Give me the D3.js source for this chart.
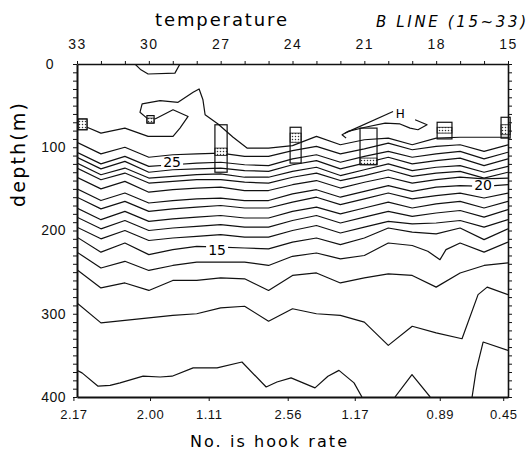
<!DOCTYPE html>
<html>
<head>
<meta charset="utf-8">
<script src="https://cdn.jsdelivr.net/npm/d3@7"></script>
<style>
body { margin: 0; background: #fff; }
svg { display: block; font-family: "DejaVu Sans", sans-serif; }
.contour { fill: none; stroke: #111; stroke-width: 1.2; stroke-linejoin: round; }
.axis path, .axis line { stroke: #111; }
.axis text { fill: #111; }
</style>
</head>
<body>
<svg id="chart" width="528" height="452"></svg>
<script>
// station numbers along the B line (top axis) and depth ticks
var stations = [33,32,31,30,29,28,27,26,25,24,23,22,21,20,19,18,17,16,15];
var tempTicks = [33,30,27,24,21,18,15];
var depthTicks = [0,100,200,300,400];

// hook rate written under the section, at these stations
var hookRates = ["2.17","2.00","1.11","2.56","1.17","0.89","0.45"];
var hookAt = [33.15,29.95,27.5,24.2,21.4,17.85,15.2];

// isotherm depths (m) at each station, 26C down to 15C
var iso26 = [94,108,100,112,109,108,107,111,111,104,99,108,102,95,103,99,97,105,97];
var iso25 = [106,120,111,123,121,119,118,121,122,114,109,118,111,105,112,108,105,114,106];
var iso24 = [112,126,117,130,127,126,125,128,129,121,116,126,119,112,120,116,113,122,114];
var iso23 = [119,133,125,137,135,133,132,136,136,129,124,134,127,120,128,124,122,130,123];
var iso22 = [125,139,131,143,141,139,139,142,143,136,131,140,134,127,135,131,129,137,130];
var iso21 = [136,150,141,154,151,149,148,152,152,145,140,149,142,136,143,139,136,138,137];
var iso20 = [150,164,155,167,164,162,161,164,164,156,151,160,153,146,153,148,146,147,145];
var iso19 = [160,174,165,177,174,172,170,173,173,166,160,169,162,155,162,158,155,161,155];
var iso18 = [173,187,177,189,186,184,182,185,185,177,172,180,173,166,173,168,165,173,165];
var iso17 = [184,198,188,200,197,195,193,196,196,188,182,191,184,177,183,179,176,184,175];
var iso16 = [196,210,200,212,209,207,205,208,208,200,194,203,196,189,192,191,188,196,187];
var iso15 = [208,226,215,229,223,219,220,221,222,214,209,217,209,197,202,204,197,211,198];
var iso13 = [247,269,263,272,260,260,257,258,272,254,251,263,257,252,254,268,251,242,239];

// the rest as [station, depth] points
var iso14 = [[33,226],[32,245],[31,237],[30,248],[29,242],[28,238],[27,238],[26,238],[25,242],[24,231],[23,227],[22,234],[21,230],[20,215],[19,218],[18.35,225],[17.84,235],[17.59,223],[17,215],[16,226],[15,214]];
var iso12 = [[33,287],[32,311],[31,308],[30,305],[29,302],[28,300],[27,293],[26,291],[25,309],[24,294],[23,300],[22,302],[21,310],[20,338],[19,315],[18,323],[16.92,330],[16.25,277],[15.87,268],[15,277]];
var iso11a = [[33,368],[32.79,371],[32.12,387],[31.62,386],[31.2,383],[30.24,375],[29.53,376],[29.03,375],[28.15,365],[27.15,365],[26.11,358],[25.1,388],[24.65,382],[24.06,377],[23.06,389],[22.52,375],[22.06,368],[21.43,383],[21.1,400]];
var iso11b = [[19.72,400],[19.01,373],[18.25,400]];
var iso11c = [[16.5,400],[16.33,368],[16.04,334],[15,344]];

// warm water near the surface
var surfacePocket = [[30.58,0],[30.33,7],[30.03,12],[28.91,11],[28.7,0]];
var iso28 = [[32.58,76],[32,83],[31,77],[30.03,87],[28.99,87],[28.7,77],[28.36,63],[28.99,55],[29.74,66]];
var iso27 = [[30.08,65],[30.37,58],[30.28,48],[29.53,44],[28.78,46],[28.15,34],[27.9,30],[27.74,43],[27.65,61],[27.11,72],[26.48,88],[25.9,101],[25,101],[24,98],[23,87],[22,97],[21,91],[20,89],[19,97],[18,89],[17,88],[16,88],[15,88]];
var hLine = [[21.81,83],[19.8,57]];
var hCurve = [[21.76,89],[21.93,85],[21.68,81],[20.97,76],[20.13,71],[19.51,72],[19.09,77],[18.76,79],[18.38,73],[18.88,67]];

// labels on the isotherms
var contourLabels = ["25","20","15"];
var contourLabelAt = [[29.03,118],[16.04,145],[27.15,223]];

// hook depth boxes: station edges, box depth range, dotted part
var hookBoxes = [
  {s0:32.96, s1:32.58, top:66, bottom:79, dotTop:66, dotBottom:79},
  {s0:30.08, s1:29.78, top:62, bottom:71, dotTop:65, dotBottom:71},
  {s0:27.24, s1:26.73, top:73, bottom:130, dotTop:101, dotBottom:110},
  {s0:24.1, s1:23.64, top:76, bottom:119, dotTop:83, dotBottom:94},
  {s0:21.18, s1:20.47, top:77, bottom:121, dotTop:113, dotBottom:121},
  {s0:17.96, s1:17.34, top:70, bottom:90, dotTop:76, dotBottom:83},
  {s0:15.29, s1:14.91, top:64, bottom:89, dotTop:73, dotBottom:85}
];

var svg = d3.select("#chart");

var x = d3.scaleLinear().domain([33,15]).range([77,508]);
var y = d3.scaleLinear().domain([0,400]).range([64,397]);

var defs = svg.append("defs");
defs.append("clipPath").attr("id","plot")
  .append("rect")
  .attr("x", x(33)).attr("y", y(0))
  .attr("width", x(15) - x(33)).attr("height", y(400) - y(0));

var dots = defs.append("pattern").attr("id","dots")
  .attr("width",3).attr("height",3).attr("patternUnits","userSpaceOnUse");
dots.append("rect").attr("width",3).attr("height",3).attr("fill","#fff");
dots.append("circle").attr("cx",1.5).attr("cy",1.5).attr("r",0.75).attr("fill","#333");

var line = d3.line()
  .x(function(d) { return x(d[0]); })
  .y(function(d) { return y(d[1]); });

function onStations(arr) {
  return stations.map(function(s, i) { return [s, arr[i]]; });
}

var gridLines = [iso26,iso25,iso24,iso23,iso22,iso21,iso20,iso19,iso18,iso17,iso16,iso15,iso13].map(onStations);
var freeLines = [iso14, iso12, iso11a, iso11b, iso11c, surfacePocket, iso28, iso27, hLine, hCurve];

var g = svg.append("g").attr("clip-path","url(#plot)");
g.selectAll(".contour")
  .data(gridLines.concat(freeLines))
  .enter().append("path")
  .attr("class","contour")
  .attr("d", line);

// isotherm labels sit in a small white gap
contourLabels.forEach(function(t, i) {
  var cx = x(contourLabelAt[i][0]), cy = y(contourLabelAt[i][1]);
  svg.append("rect")
    .attr("x", cx - 11).attr("y", cy - 5)
    .attr("width", 22).attr("height", 10)
    .attr("fill","#fff");
  svg.append("text")
    .attr("x", cx).attr("y", cy + 5)
    .attr("text-anchor","middle")
    .style("font-size","14px")
    .text(t);
});

svg.append("text")
  .attr("x", x(19.5)).attr("y", y(59) + 5)
  .attr("text-anchor","middle")
  .style("font-size","12px")
  .text("H");

// hook boxes
hookBoxes.forEach(function(b) {
  svg.append("rect")
    .attr("x", x(b.s0)).attr("y", y(b.dotTop))
    .attr("width", x(b.s1) - x(b.s0)).attr("height", y(b.dotBottom) - y(b.dotTop))
    .attr("fill","url(#dots)").attr("stroke","#111").attr("stroke-width",0.8);
  svg.append("rect")
    .attr("x", x(b.s0)).attr("y", y(b.top))
    .attr("width", x(b.s1) - x(b.s0)).attr("height", y(b.bottom) - y(b.top))
    .attr("fill","none").attr("stroke","#111").attr("stroke-width",1.2);
});

// axes
var minor = d3.range(0, 401, 10);

var topAxis = svg.append("g").attr("class","axis")
  .attr("transform","translate(0," + y(0) + ")")
  .call(d3.axisTop(x).tickValues(stations).tickSize(3).tickSizeOuter(0).tickPadding(12)
    .tickFormat(function(d) { return tempTicks.indexOf(d) >= 0 ? d : ""; }));
topAxis.selectAll("text").style("font-size","14px").style("letter-spacing","1.5px");
topAxis.select(".domain").attr("stroke-width",1.4);

var leftAxis = svg.append("g").attr("class","axis")
  .attr("transform","translate(" + x(33) + ",0)")
  .call(d3.axisLeft(y).tickValues(minor).tickSize(4).tickSizeOuter(0).tickPadding(7)
    .tickFormat(function(d) { return depthTicks.indexOf(d) >= 0 ? d : ""; }));
leftAxis.selectAll("text").style("font-size","14px").style("letter-spacing","0.5px");
leftAxis.selectAll(".tick").filter(function(d) { return d == 0; })
  .select("text").attr("dx", -12);
leftAxis.select(".domain").attr("stroke-width",2);

var rightAxis = svg.append("g").attr("class","axis")
  .attr("transform","translate(" + x(15) + ",0)")
  .call(d3.axisRight(y).tickValues(minor).tickSize(4).tickSizeOuter(0).tickFormat(""));
rightAxis.select(".domain").attr("stroke-width",1.6);

var bottomAxis = svg.append("g").attr("class","axis")
  .attr("transform","translate(0," + y(400) + ")")
  .call(d3.axisBottom(x).tickValues(hookAt).tickSize(4).tickSizeOuter(0).tickPadding(9)
    .tickFormat(function(d, i) { return hookRates[i]; }));
bottomAxis.selectAll("text").style("font-size","13px").style("letter-spacing","0.5px");
bottomAxis.select(".domain").attr("stroke-width",2.2);

// titles
svg.append("text")
  .attr("x", 155).attr("y", 26)
  .attr("textLength", 132).attr("lengthAdjust","spacing")
  .style("font-size","18px")
  .text("temperature");

svg.append("text")
  .attr("x", 376).attr("y", 27)
  .attr("textLength", 150).attr("lengthAdjust","spacing")
  .style("font-size","15px").style("font-style","italic")
  .text("B LINE  (15~33)");

svg.append("text")
  .attr("transform","translate(25,155) rotate(-90)")
  .attr("text-anchor","middle")
  .attr("textLength", 104).attr("lengthAdjust","spacing")
  .style("font-size","19px")
  .text("depth(m)");

svg.append("text")
  .attr("x", 190).attr("y", 447)
  .attr("textLength", 157).attr("lengthAdjust","spacing")
  .style("font-size","16px")
  .text("No. is  hook rate");
</script>
</body>
</html>
